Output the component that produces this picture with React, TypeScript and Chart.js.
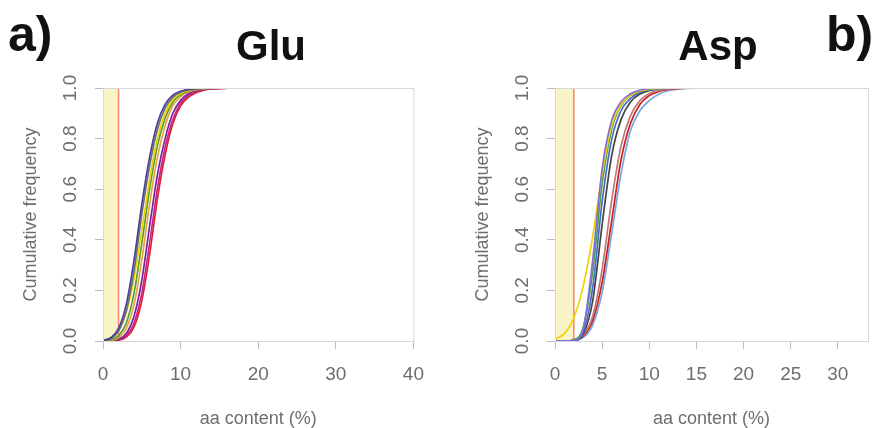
import React, { useEffect, useRef } from "react";
import { Chart, registerables } from "chart.js";

Chart.register(...registerables);

// ---------- data ----------
const THRESHOLD = 2;
const Y_TICKS = [0, 0.2, 0.4, 0.6, 0.8, 1.0];

const GLU_X = [0, 1, 2, 3, 4, 5, 6, 7, 8, 9, 10, 11, 12, 13, 14, 16, 20, 40];
const GLU_X_TICKS = [0, 10, 20, 30, 40];
const GLU_NAVY = [0.002, 0.013, 0.05, 0.145, 0.32, 0.54, 0.726, 0.86, 0.935, 0.972, 0.987, 0.995, 0.998, 0.999, 1, 1, 1, 1];
const GLU_GRAY = [0.002, 0.009, 0.039, 0.119, 0.278, 0.5, 0.691, 0.835, 0.92, 0.964, 0.984, 0.993, 0.997, 0.999, 1, 1, 1, 1];
const GLU_YELLOW = [0.003, 0.012, 0.041, 0.113, 0.248, 0.436, 0.637, 0.8, 0.9, 0.955, 0.979, 0.991, 0.996, 0.999, 1, 1, 1, 1];
const GLU_GREEN = [0.001, 0.004, 0.02, 0.071, 0.189, 0.385, 0.599, 0.77, 0.88, 0.945, 0.974, 0.988, 0.995, 0.998, 0.999, 1, 1, 1];
const GLU_ORANGE = [0, 0.002, 0.013, 0.05, 0.145, 0.32, 0.54, 0.725, 0.85, 0.93, 0.966, 0.984, 0.993, 0.997, 0.999, 1, 1, 1];
const GLU_PURPLE = [0, 0.001, 0.007, 0.03, 0.098, 0.24, 0.452, 0.655, 0.8, 0.9, 0.951, 0.977, 0.99, 0.996, 0.998, 1, 1, 1];
const GLU_MAGENTA = [0, 0.001, 0.004, 0.02, 0.071, 0.189, 0.385, 0.6, 0.765, 0.875, 0.94, 0.97, 0.986, 0.994, 0.997, 1, 1, 1];
const GLU_RED = [0, 0, 0.003, 0.015, 0.056, 0.159, 0.34, 0.56, 0.735, 0.86, 0.93, 0.963, 0.981, 0.991, 0.996, 0.999, 1, 1];

const ASP_X = [0, 1, 2, 3, 4, 5, 6, 7, 8, 9, 10, 11, 12, 13, 14, 16, 20, 33];
const ASP_X_TICKS = [0, 5, 10, 15, 20, 25, 30];
const ASP_PURPLE = [0, 0, 0.002, 0.05, 0.32, 0.68, 0.87, 0.945, 0.977, 0.991, 0.997, 0.999, 1, 1, 1, 1, 1, 1];
const ASP_YELLOW = [0.007, 0.029, 0.092, 0.218, 0.413, 0.66, 0.85, 0.935, 0.972, 0.988, 0.995, 0.998, 1, 1, 1, 1, 1, 1];
const ASP_GREEN = [0, 0, 0.005, 0.055, 0.274, 0.62, 0.835, 0.93, 0.97, 0.986, 0.994, 0.998, 1, 1, 1, 1, 1, 1];
const ASP_BLUE = [0, 0, 0.003, 0.036, 0.212, 0.55, 0.795, 0.91, 0.958, 0.982, 0.993, 0.997, 0.999, 1, 1, 1, 1, 1];
const ASP_DARK = [0, 0, 0.002, 0.028, 0.159, 0.46, 0.73, 0.875, 0.945, 0.976, 0.99, 0.996, 0.999, 1, 1, 1, 1, 1];
const ASP_ROSY = [0, 0, 0.003, 0.023, 0.099, 0.284, 0.553, 0.77, 0.89, 0.95, 0.978, 0.99, 0.996, 0.998, 1, 1, 1, 1];
const ASP_RED = [0, 0, 0.003, 0.019, 0.081, 0.232, 0.472, 0.715, 0.86, 0.935, 0.97, 0.986, 0.994, 0.997, 0.999, 1, 1, 1];
const ASP_LIGHTBLUE = [0, 0, 0.002, 0.014, 0.063, 0.192, 0.421, 0.66, 0.83, 0.91, 0.95, 0.975, 0.989, 0.995, 0.998, 1, 1, 1];

// ---------- styles ----------
const FONT = "'Liberation Sans', Arial, sans-serif";
const TEXT_GRAY = "#6e6e6e";
const BAND = "#f8f4c6";
const RED_LINE = "#f28a78";
const BOX = "#d8d8d8";

type Series = { color: string; values: number[] };
type Panel = {
  title: string;
  tag: string;
  xs: number[];
  xTicks: number[];
  xMax: number;
  series: Series[];
  canvasLeft: number;
  width: number;
  plotLeft: number;
  plotRight: number;
  titleX: number;
  tagX: number;
};

const HEIGHT = 428;
const PLOT_TOP = 88;
const PLOT_BOTTOM = 341;

const PANELS: Panel[] = [
  {
    title: "Glu",
    tag: "a)",
    xs: GLU_X,
    xTicks: GLU_X_TICKS,
    xMax: 40,
    series: [
      { color: "#4b3f9e", values: GLU_NAVY },
      { color: "#707070", values: GLU_GRAY },
      { color: "#e6d400", values: GLU_YELLOW },
      { color: "#5a9e2c", values: GLU_GREEN },
      { color: "#eaa040", values: GLU_ORANGE },
      { color: "#7a1fa0", values: GLU_PURPLE },
      { color: "#c8287a", values: GLU_MAGENTA },
      { color: "#e0203a", values: GLU_RED },
    ],
    canvasLeft: 0,
    width: 438,
    plotLeft: 103,
    plotRight: 418,
    titleX: 271,
    tagX: 8,
  },
  {
    title: "Asp",
    tag: "b)",
    xs: ASP_X,
    xTicks: ASP_X_TICKS,
    xMax: 33.2,
    series: [
      { color: "#8a6ad8", values: ASP_PURPLE },
      { color: "#f0d400", values: ASP_YELLOW },
      { color: "#4aa84a", values: ASP_GREEN },
      { color: "#4a6ac8", values: ASP_BLUE },
      { color: "#444444", values: ASP_DARK },
      { color: "#c07878", values: ASP_ROSY },
      { color: "#c82020", values: ASP_RED },
      { color: "#78a8e0", values: ASP_LIGHTBLUE },
    ],
    canvasLeft: 438,
    width: 438,
    plotLeft: 117,
    plotRight: 430,
    titleX: 280,
    tagX: 388,
  },
];

function makePlugin(p: Panel) {
  return {
    id: "decor",
    beforeDatasetsDraw(chart: any) {
      const { ctx, chartArea, scales } = chart;
      const x = scales.x;
      const x0 = x.getPixelForValue(0);
      const x1 = x.getPixelForValue(THRESHOLD);
      ctx.save();
      ctx.fillStyle = BAND;
      ctx.fillRect(x0, chartArea.top, x1 - x0, chartArea.bottom - chartArea.top);
      ctx.strokeStyle = RED_LINE;
      ctx.lineWidth = 1.6;
      ctx.beginPath();
      ctx.moveTo(x1, chartArea.top);
      ctx.lineTo(x1, chartArea.bottom);
      ctx.stroke();
      ctx.restore();
    },
    afterDraw(chart: any) {
      const { ctx, chartArea, scales } = chart;
      const y = scales.y;
      ctx.save();
      // box
      ctx.strokeStyle = BOX;
      ctx.lineWidth = 1;
      ctx.strokeRect(chartArea.left + 0.5, chartArea.top + 0.5, chartArea.right - chartArea.left, chartArea.bottom - chartArea.top);
      // y tick labels (rotated, R style)
      ctx.fillStyle = TEXT_GRAY;
      ctx.font = `19px ${FONT}`;
      ctx.textAlign = "center";
      ctx.textBaseline = "middle";
      for (const t of y.ticks) {
        const py = y.getPixelForValue(t.value);
        ctx.save();
        ctx.translate(chartArea.left - 32, py);
        ctx.rotate(-Math.PI / 2);
        ctx.fillText(Number(t.value).toFixed(1), 0, 0);
        ctx.restore();
      }
      // y title
      ctx.save();
      ctx.font = `18px ${FONT}`;
      ctx.translate(chartArea.left - 72, (chartArea.top + chartArea.bottom) / 2);
      ctx.rotate(-Math.PI / 2);
      ctx.fillText("Cumulative frequency", 0, 0);
      ctx.restore();
      // x title
      ctx.font = `18px ${FONT}`;
      ctx.fillText("aa content (%)", (chartArea.left + chartArea.right) / 2, 419);
      // panel title
      ctx.fillStyle = "#111111";
      ctx.textBaseline = "alphabetic";
      ctx.font = `bold 42px ${FONT}`;
      ctx.fillText(p.title, p.titleX, 60);
      ctx.textAlign = "left";
      ctx.font = `bold 50px ${FONT}`;
      ctx.fillText(p.tag, p.tagX, 51);
      ctx.restore();
    },
  };
}

function PanelChart({ p }: { p: Panel }) {
  const ref = useRef<HTMLCanvasElement | null>(null);
  useEffect(() => {
    if (!ref.current) return;
    const chart = new Chart(ref.current, {
      type: "line",
      data: {
        datasets: p.series.map((s, i) => ({
          label: `${p.title} ${i + 1}`,
          data: p.xs.map((xv, j) => ({ x: xv, y: s.values[j] })),
          borderColor: s.color,
          borderWidth: 1.7,
          pointRadius: 0,
          fill: false,
          cubicInterpolationMode: "monotone" as const,
        })),
      },
      options: {
        animation: false,
        responsive: false,
        maintainAspectRatio: false,
        devicePixelRatio: 1,
        layout: { padding: { left: 0, right: p.width - p.plotRight, top: PLOT_TOP, bottom: 0 } },
        plugins: { legend: { display: false }, tooltip: { enabled: false }, title: { display: false } },
        scales: {
          x: {
            type: "linear",
            min: 0,
            max: p.xMax,
            afterFit: (s: any) => {
              s.height = HEIGHT - PLOT_BOTTOM;
            },
            afterBuildTicks: (s: any) => {
              s.ticks = p.xTicks.map((v) => ({ value: v }));
            },
            grid: { drawOnChartArea: false, drawTicks: true, tickLength: 8, color: "#bdbdbd" },
            border: { display: true, color: BOX },
            ticks: {
              autoSkip: false,
              maxRotation: 0,
              padding: 14,
              color: TEXT_GRAY,
              font: { size: 19, family: FONT },
              callback: (v: any) => String(v),
            },
          },
          y: {
            type: "linear",
            min: 0,
            max: 1,
            afterFit: (s: any) => {
              s.width = p.plotLeft;
            },
            afterBuildTicks: (s: any) => {
              s.ticks = Y_TICKS.map((v) => ({ value: v }));
            },
            grid: { drawOnChartArea: false, drawTicks: true, tickLength: 8, color: "#bdbdbd" },
            border: { display: true, color: BOX },
            ticks: { display: false },
          },
        },
      },
      plugins: [makePlugin(p)],
    } as any);
    return () => chart.destroy();
  }, [p]);
  return (
    <canvas
      ref={ref}
      width={p.width}
      height={HEIGHT}
      style={{ position: "absolute", left: p.canvasLeft, top: 0, width: p.width, height: HEIGHT }}
    />
  );
}

export default function App() {
  return (
    <div style={{ position: "fixed", left: 0, top: 0, width: 876, height: HEIGHT, background: "#ffffff" }}>
      {PANELS.map((p) => (
        <PanelChart key={p.title} p={p} />
      ))}
    </div>
  );
}
